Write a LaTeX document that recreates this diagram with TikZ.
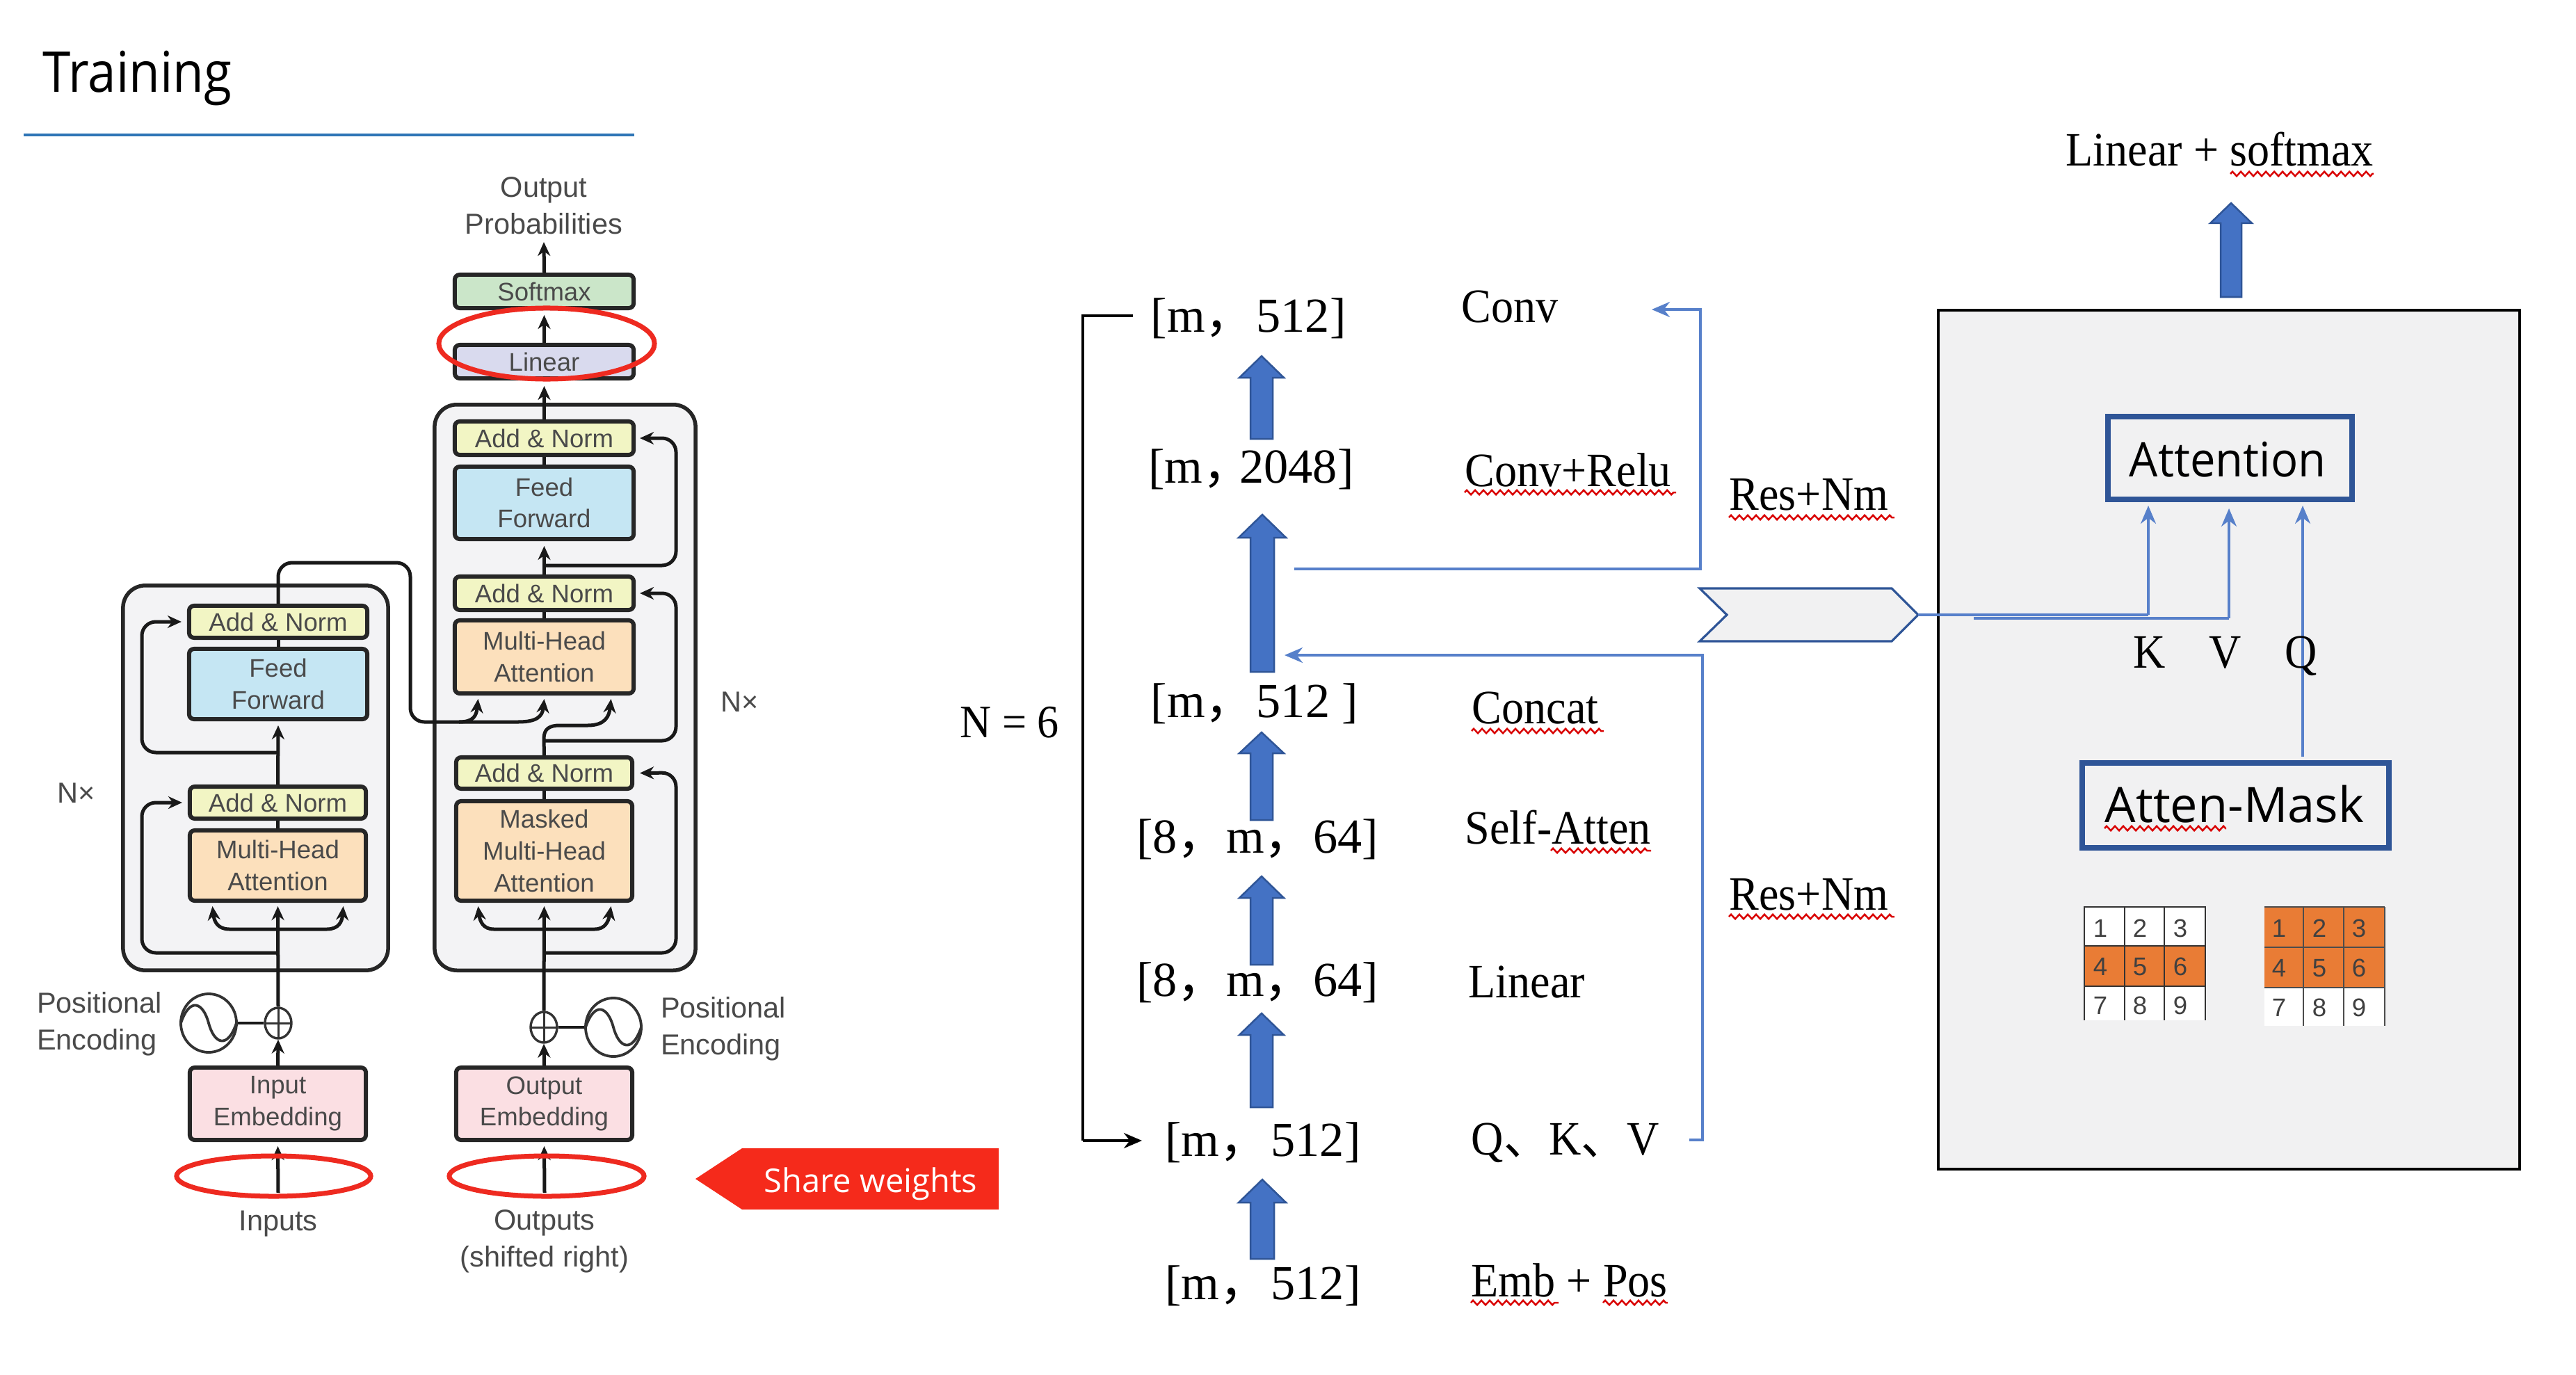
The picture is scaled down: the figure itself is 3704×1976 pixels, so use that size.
\documentclass[tikz,border=0pt]{standalone}
\usepackage{fontspec}
\setmainfont{Liberation Serif}
\newfontfamily\cjk{Noto Sans CJK SC}
\newfontfamily\cjkn[FakeStretch=.95]{Noto Sans CJK SC}
\newfontfamily\serifn[FakeStretch=.93]{Liberation Serif}
\newfontfamily\hv{Liberation Sans}
\newfontfamily\ya{Open Sans}
\newfontfamily\yatitle[FakeStretch=.9]{Open Sans}
\newfontfamily\yaattn[FakeStretch=.95]{Open Sans}
\usetikzlibrary{arrows.meta,shapes.geometric,decorations.pathmorphing}
\definecolor{rulblue}{HTML}{2E75B6}
\definecolor{addc}{HTML}{F2F5C4}
\definecolor{ffc}{HTML}{C5E6F3}
\definecolor{mhc}{HTML}{FCE0BC}
\definecolor{emc}{HTML}{FBDFE3}
\definecolor{smc}{HTML}{CBE6C9}
\definecolor{lnc}{HTML}{D9DAEE}
\definecolor{blkc}{HTML}{F3F3F5}
\definecolor{redl}{HTML}{EE2A20}
\definecolor{sharec}{HTML}{F52A1B}
\definecolor{lblue}{HTML}{4472C4}
\definecolor{dblue}{HTML}{2F5597}
\definecolor{pane}{HTML}{F1F1F2}
\definecolor{orng}{HTML}{E97C35}
\definecolor{gtext}{HTML}{4A4A4A}
\tikzset{
  bxs/.style={draw=black!85,line width=.6mm,rounded corners=.7mm,inner sep=0pt,align=center,text=gtext,
     font=\hv\fontsize{10.4}{13}\selectfont},
  blockbx/.style={draw=black!85,fill=blkc,line width=.55mm,rounded corners=3.2mm,inner sep=0pt},
  lbl/.style={inner sep=0pt,align=center,text=gtext,font=\hv\fontsize{11.8}{15}\selectfont},
  ar/.style={draw=black!90,line width=.5mm,-{Stealth[length=2mm,width=1.8mm]}},
  ln/.style={draw=black!90,line width=.5mm},
  ringred/.style={shape=ellipse,draw=redl,line width=.7mm,inner sep=0pt},
  mid/.style={inner sep=0pt,anchor=base,font=\fontsize{20}{24}\selectfont},
  rt/.style={inner sep=0pt,anchor=base west,font=\serifn\fontsize{19.6}{24}\selectfont},
  blk/.style={fill=lblue,draw=dblue,line width=.25mm},
  blue/.style={draw=lblue!90,line width=.32mm},
  bluear/.style={draw=lblue!90,line width=.32mm,-{Stealth[length=2.6mm,width=2.2mm]}},
  wavy/.style={draw=red!85!black,line width=.25mm,decorate,decoration={zigzag,segment length=1.2mm,amplitude=.32mm}},
  attbox/.style={draw=dblue,line width=.8mm,inner sep=0pt},
  sinec/.style={shape=ellipse,draw=black!80,line width=.38mm,inner sep=0pt},
  pluss/.style={shape=ellipse,draw=black!80,line width=.34mm,inner sep=0pt},
  digit/.style={inner sep=0pt,font=\hv\fontsize{10.4}{12}\selectfont,text=black!75}
}
\newcommand\bxn[7]{\pgfmathsetmacro\cxx{(#2+#4)/2}\pgfmathsetmacro\cyy{(#3+#5)/2}%
  \node[#6,minimum width={(#4-#2)*0.1mm},minimum height={(#5-#3)*0.1mm}] (#1) at (\cxx,\cyy) {#7};}
\newcommand\blockarrow[6]{\path[blk] (#1,#2) -- (#1+#6,#3) -- (#1+#5,#3) -- (#1+#5,#4) -- (#1-#5,#4) -- (#1-#5,#3) -- (#1-#6,#3) -- cycle;}
\newcommand\sinewave[2]{\begin{scope}[shift={(#1,#2)}]
  \draw[black!80,line width=.38mm] (-40,0) .. controls (-27,-38) and (-8,-30) .. (0,0) .. controls (8,30) and (27,38) .. (40,0);
 \end{scope}}
\newcommand\crossin[2]{\begin{scope}[shift={(#1,#2)}]
  \draw[black!80,line width=.3mm] (-19,0) -- (19,0) (0,-21) -- (0,21);
 \end{scope}}
\begin{document}
\begin{tikzpicture}[x=0.01cm,y=-0.01cm]
\useasboundingbox (0,0) rectangle (3704,1976);
\fill[white] (0,0) rectangle (3704,1976);
% title
\node[inner sep=0pt,anchor=base west,font=\yatitle\fontsize{23}{26}\selectfont] (title) at (61,133) {Training};
\coordinate (rulea) at (34,194); \coordinate (ruleb) at (912,194);
\draw[rulblue,line width=.35mm] (rulea) -- (ruleb);
% encoder + decoder blocks
\bxn{encblock}{177}{842}{558}{1395}{blockbx}{}
\bxn{decblock}{625}{582}{1000}{1395}{blockbx}{}
% top of decoder
\node[lbl] (outprob) at (782,296) {Output\\Probabilities};
\bxn{soft}{654}{395}{911}{443}{bxs,fill=smc}{Softmax}
\bxn{lin}{654}{496}{911}{544}{bxs,fill=lnc}{Linear}
% decoder layers
\bxn{dAN3}{654}{606}{911}{654}{bxs,fill=addc}{Add \& Norm}
\bxn{dFF}{654}{671}{911}{775}{bxs,fill=ffc}{Feed\\Forward}
\bxn{dAN2}{654}{829}{911}{877}{bxs,fill=addc}{Add \& Norm}
\bxn{dMH}{654}{892}{911}{997}{bxs,fill=mhc}{Multi-Head\\Attention}
\bxn{dAN1}{656}{1089}{909}{1134}{bxs,fill=addc}{Add \& Norm}
\bxn{dMM}{656}{1152}{909}{1295}{bxs,fill=mhc}{Masked\\Multi-Head\\Attention}
\bxn{dEmb}{656}{1535}{909}{1639}{bxs,fill=emc}{Output\\Embedding}
% encoder layers
\bxn{eAN2}{272}{871}{528}{917}{bxs,fill=addc}{Add \& Norm}
\bxn{eFF}{272}{933}{528}{1034}{bxs,fill=ffc}{Feed\\Forward}
\bxn{eAN1}{273}{1131}{526}{1177}{bxs,fill=addc}{Add \& Norm}
\bxn{eMH}{273}{1194}{526}{1295}{bxs,fill=mhc}{Multi-Head\\Attention}
\bxn{eEmb}{273}{1535}{526}{1639}{bxs,fill=emc}{Input\\Embedding}
% labels
\node[lbl] (nxl) at (110,1140) {N×};
\node[lbl] (nxr) at (1064,1009) {N×};
\node[lbl,align=left] (pel) at (143,1472) {Positional\\Encoding};
\node[lbl,align=left] (per) at (1040,1479) {Positional\\Encoding};
\node[lbl] (inp) at (400,1760) {Inputs};
\node[lbl] (outp) at (783,1785) {Outputs\\(shifted right)};
% positional encoding
\bxn{eSine}{260}{1429}{340}{1513}{sinec}{}
\bxn{dSine}{842}{1435}{922}{1519}{sinec}{}
\bxn{ePlus}{381}{1449}{419}{1493}{pluss}{}
\bxn{dPlus}{763}{1455}{801}{1499}{pluss}{}
\sinewave{300}{1471}\sinewave{882}{1477}
\crossin{400}{1471}\crossin{782}{1477}
\draw[ln,line width=.38mm] (eSine.east) -- (ePlus.west);
\draw[ln,line width=.38mm] (dSine.west) -- (dPlus.east);
% decoder connectors
\draw[ar] (soft.north) -- (782,348);
\draw[ar] (lin.north) -- ([yshift=-.7mm]soft.south);
\draw[ar] (dAN3.north) -- ([yshift=-.8mm]lin.south);
\draw[ln] (dFF.north) -- (dAN3.south);
\draw[ar] (dAN2.north) -- ([yshift=-.7mm]dFF.south);
\draw[ln] (dMH.north) -- (dAN2.south);
\draw[ln] (dAN1.north) -- (782,1062);
\draw[ln] (dMM.north) -- (dAN1.south);
\draw[ar] (dPlus.north) -- ([yshift=-.5mm]dMM.south);
\draw[ar] (dEmb.north) -- (dPlus.south);
\coordinate (dInS) at (783,1715);
\draw[ar] (dInS) -- ([yshift=-.6mm]dEmb.south);
\coordinate (dR3) at (782,813); \coordinate (dR2) at (782,1065); \coordinate (dR1) at (782,1370);
\draw[ar,rounded corners=2mm] (dR3) -- (972,813) -- (972,630) -- ([xshift=.6mm]dAN3.east);
\draw[ar,rounded corners=2mm] (dR2) -- (972,1065) -- (972,853) -- ([xshift=.6mm]dAN2.east);
\draw[ar,rounded corners=2mm] (dR1) -- (972,1370) -- (972,1111) -- ([xshift=.8mm]dAN1.east);
% cross attention
\draw[ln,rounded corners=2mm] (eAN2.north) -- (400,809) -- (590,809) -- (590,1038) -- (745,1038);
\draw[ar] (745,1038) .. controls (772,1038) and (780,1030) .. ([yshift=-.5mm]dMH.south);
\draw[ar] (660,1038) .. controls (680,1038) and (685,1030) .. ([xshift=-9.5mm,yshift=-.5mm]dMH.south);
\draw[ar] (782,1062) .. controls (782,1048) and (790,1043) .. (805,1043) -- (845,1043) .. controls (870,1043) and (876,1030) .. ([xshift=9.6mm,yshift=-.5mm]dMH.south);
% masked attention U
\coordinate (dU) at (782,1336);
\draw[ar] (dU) -- (710,1336) .. controls (695,1336) and (690,1325) .. ([xshift=-9.5mm,yshift=-.5mm]dMM.south);
\draw[ar] (dU) -- (855,1336) .. controls (870,1336) and (875,1325) .. ([xshift=9.6mm,yshift=-.5mm]dMM.south);
% encoder connectors
\draw[ln] (eFF.north) -- (eAN2.south);
\draw[ar] (eAN1.north) -- ([yshift=-.6mm]eFF.south);
\draw[ln] (eMH.north) -- (eAN1.south);
\draw[ar] (ePlus.north) -- ([yshift=-.5mm]eMH.south);
\draw[ar] (eEmb.north) -- (ePlus.south);
\coordinate (eInS) at (400,1715);
\draw[ar] (eInS) -- ([yshift=-.6mm]eEmb.south);
\coordinate (eR2) at (400,1082); \coordinate (eR1) at (400,1370);
\draw[ar,rounded corners=2mm] (eR2) -- (204,1082) -- (204,894) -- ([xshift=-.8mm]eAN2.west);
\draw[ar,rounded corners=2mm] (eR1) -- (204,1370) -- (204,1154) -- ([xshift=-.8mm]eAN1.west);
\coordinate (eU) at (400,1336);
\draw[ar] (eU) -- (330,1336) .. controls (313,1336) and (308,1325) .. ([xshift=-9.4mm,yshift=-.5mm]eMH.south);
\draw[ar] (eU) -- (470,1336) .. controls (487,1336) and (492,1325) .. ([xshift=9.4mm,yshift=-.5mm]eMH.south);
% red rings
\bxn{ringlin}{631}{443}{941}{545}{ringred}{}
\bxn{ringin}{254}{1662}{533}{1720}{ringred}{}
\bxn{ringout}{646}{1662}{926}{1720}{ringred}{}
% share weights
\path[fill=sharec] (1000,1695) -- (1067,1651) -- (1436,1651) -- (1436,1739) -- (1067,1739) -- cycle;
\node[inner sep=0pt,text=white,font=\ya\fontsize{13.4}{16}\selectfont] (share) at (1252,1702) {Share weights};
% middle column text
\node[inner sep=0pt,anchor=base,font=\serifn\fontsize{19}{24}\selectfont] (nsix) at (1452,1060) {N = 6};
\node[mid] (s1) at (1795,477) {[m{\cjk ，}\kern1pt512]};
\node[mid] (s2) at (1799,694) {[m{\cjk ，}\kern-5pt2048]};
\node[mid] (s3) at (1804,1031) {[m{\cjk ，}\kern1pt512 ]};
\node[mid] (s4) at (1808,1226) {[8{\cjk ，}m{\cjk ，}64]};
\node[mid] (s5) at (1808,1432) {[8{\cjk ，}m{\cjk ，}64]};
\node[mid] (s6) at (1816,1662) {[m{\cjk ，}\kern1pt512]};
\node[mid] (s7) at (1816,1868) {[m{\cjk ，}\kern1pt512]};
\node[rt] (t1) at (2101,463) {Conv};
\node[rt] (t2) at (2106,699) {Conv+Relu};
\node[rt] (t3) at (2116,1040) {Concat};
\node[rt] (t4) at (2106,1213) {Self-Atten};
\node[rt] (t5) at (2111,1434) {Linear};
\node[rt] (t6) at (2115,1660) {Q{\cjkn 、}K{\cjkn 、}V};
\node[rt] (t7) at (2115,1864) {Emb + Pos};
\node[rt] (r1) at (2486,733) {Res+Nm};
\node[rt] (r2) at (2486,1308) {Res+Nm};
\node[rt] (t8) at (2970,239) {Linear + softmax};
\draw[wavy] (2106,708) -- (2410,708);
\draw[wavy] (2116,1051) -- (2306,1051);
\draw[wavy] (2230,1223) -- (2374,1223);
\draw[wavy] (2115,1873) -- (2241,1873);
\draw[wavy] (2305,1873) -- (2398,1873);
\draw[wavy] (2486,744) -- (2724,744);
\draw[wavy] (2486,1318) -- (2724,1318);
\draw[wavy] (3207,250) -- (3413,250);
% block arrows
\blockarrow{1814}{512}{543}{631}{16}{32}
\blockarrow{1815}{740}{773}{966}{17}{34}
\blockarrow{1814}{1053}{1083}{1179}{16}{32}
\blockarrow{1814}{1260}{1291}{1387}{16}{32}
\blockarrow{1814}{1457}{1488}{1592}{16}{32}
\blockarrow{1815}{1696}{1729}{1810}{17}{34}
\blockarrow{3208}{292}{321}{427}{15}{30}
% N loop
\draw[black,line width=.35mm] (1629,454) -- (1557,454) -- (1557,1640);
\draw[black,line width=.35mm,-{Stealth[length=2.6mm,width=2.2mm]}] (1557,1640) -- (1642,1640);
% blue Res lines
\coordinate (bl1) at (1861,818); \coordinate (bl1e) at (2375,445);
\draw[bluear] (bl1) -- (2445,818) -- (2445,445) -- (bl1e);
\coordinate (bl2) at (2429,1639); \coordinate (bl2e) at (1847,942);
\draw[bluear] (bl2) -- (2448,1639) -- (2448,942) -- (bl2e);
% right panel
\bxn{panel}{2787}{446}{3623}{1681}{draw=black,fill=pane,line width=.4mm,inner sep=0pt}{}
\bxn{attn}{3031}{599}{3382}{718}{attbox}{}
\node[inner sep=0pt,font=\yaattn\fontsize{19.5}{24}\selectfont] (attnt) at (3203,661) {Attention};
\bxn{mask}{2994}{1097}{3435}{1219}{attbox}{}
\node[inner sep=0pt,anchor=base west,font=\ya\fontsize{20}{24}\selectfont] (maskt) at (3026,1182) {Atten-Mask};
\draw[wavy] (3026,1191) -- (3201,1191);
% chevron
\path[fill=pane,draw=dblue,line width=.32mm] (2444,846) -- (2720,846) -- (2758,884) -- (2720,922) -- (2444,922) -- (2483,884) -- cycle;
\coordinate (chev) at (2758,884);
\coordinate (vst) at (2838,889);
\coordinate (qst) at (3311,1088);
\draw[blue] (chev) -- (3089,884);
\draw[bluear] (3089,884) -- (3089,727);
\draw[blue] (vst) -- (3205,889);
\draw[bluear] (3205,889) -- (3205,731);
\draw[bluear] (qst) -- (3311,727);
\node[rt,anchor=base] (kl) at (3091,960) {K};
\node[rt,anchor=base] (vl) at (3200,960) {V};
\node[rt,anchor=base] (ql) at (3309,960) {Q};
% tables
\fill[white] (2997,1304) rectangle (3171,1467);
\fill[orng] (2997,1360) rectangle (3171,1418);
\draw[black!80,line width=.22mm] (2997,1467) -- (2997,1304) -- (3171,1304) -- (3171,1467)
  (3055,1304) -- (3055,1467) (3112,1304) -- (3112,1467) (2997,1360) -- (3171,1360) (2997,1418) -- (3171,1418);
\fill[white] (3256,1420) rectangle (3429,1475);
\fill[orng] (3256,1304) rectangle (3429,1420);
\draw[black!70,line width=.22mm] (3256,1304) -- (3429,1304) (3429,1304) -- (3429,1475)
  (3312,1304) -- (3312,1475) (3370,1304) -- (3370,1475) (3256,1362) -- (3429,1362) (3256,1420) -- (3429,1420);
\foreach \d/\x/\y in {1/3020/1335,2/3077/1335,3/3135/1335,4/3020/1390,5/3077/1390,6/3135/1390,7/3020/1446,8/3077/1446,9/3135/1446}
  \node[digit] (la\d) at (\x,\y) {\d};
\foreach \d/\x/\y in {1/3277/1335,2/3335/1335,3/3392/1335,4/3277/1392,5/3335/1392,6/3392/1392,7/3277/1449,8/3335/1449,9/3392/1449}
  \node[digit] (lb\d) at (\x,\y) {\d};
\end{tikzpicture}
\end{document}
